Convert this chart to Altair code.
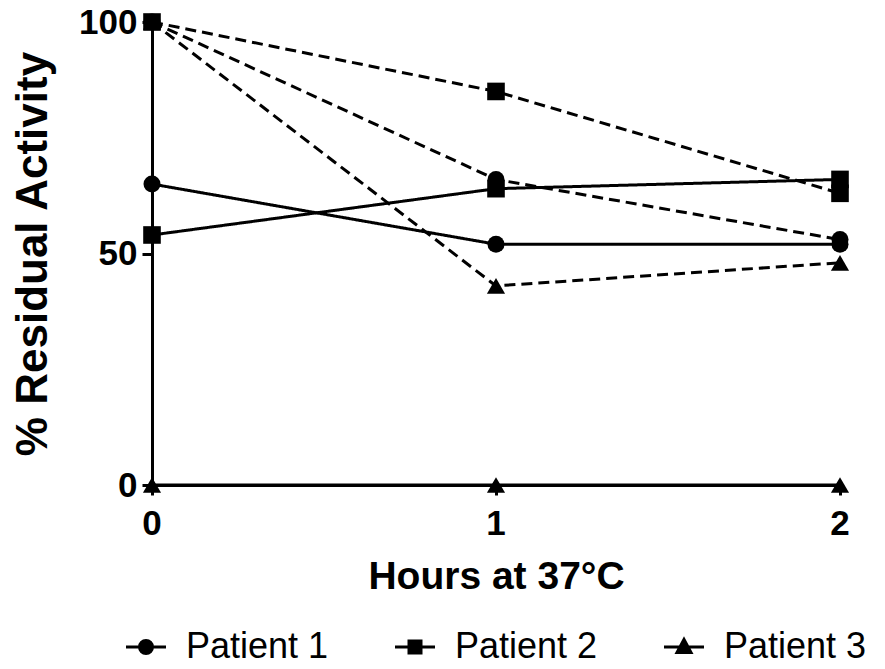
import altair as alt
import pandas as pd

hours = [0, 1, 2]
patients = ["Patient 1", "Patient 2", "Patient 3"]
# solid lines
solid_p1 = [65, 52, 52]
solid_p2 = [54, 64, 66]
solid_p3 = [0, 0, 0]
# dashed lines
dashed_p1 = [100, 66, 53]
dashed_p2 = [100, 85, 63]
dashed_p3 = [100, 43, 48]

rows = []
for cond, series in [("solid", [solid_p1, solid_p2, solid_p3]),
                     ("dashed", [dashed_p1, dashed_p2, dashed_p3])]:
    for pat, vals in zip(patients, series):
        for h, v in zip(hours, vals):
            rows.append({"patient": pat, "cond": cond, "series": pat + " " + cond,
                         "hours": h, "activity": v})
df = pd.DataFrame(rows)
ticks_df = pd.DataFrame({"hours": hours})

FONT = "Liberation Sans"

x_scale = alt.Scale(domain=[0, 2], nice=False, zero=False)
x = alt.X("hours:Q", scale=x_scale,
          axis=alt.Axis(values=hours, labels=False, title="Hours at 37°C",
                        titlePadding=61, titleFontSize=39))
y = alt.Y("activity:Q",
          scale=alt.Scale(domain=[0, 100], nice=False),
          axis=alt.Axis(values=[0, 50, 100], tickCount=3, format="d", title="% Residual Activity",
                        labelPadding=5, titlePadding=23, titleFontSize=44,
                        labelOverlap=False, labelFlush=False, labelBound=False))

lines = alt.Chart(df).mark_line(color="black", strokeWidth=3).encode(
    x=x, y=y, detail="series:N",
    strokeDash=alt.StrokeDash("cond:N",
                              scale=alt.Scale(domain=["solid", "dashed"], range=[[1, 0], [11, 6]]),
                              legend=None),
)

points = alt.Chart(df).mark_point(filled=True, color="black", opacity=1).encode(
    x=x, y=y,
    shape=alt.Shape("patient:N",
                    scale=alt.Scale(domain=patients, range=["circle", "square", "triangle-up"]),
                    legend=None),
    size=alt.Size("patient:N",
                  scale=alt.Scale(domain=patients, range=[290, 330, 270]),
                  legend=None),
)

# x tick labels drawn through the x scale
tick_labels = alt.Chart(ticks_df).mark_text(
    baseline="top", align="center", dy=22, font=FONT, fontWeight="bold",
    fontSize=35, color="black"
).encode(
    x=alt.X("hours:Q", scale=x_scale),
    y=alt.datum(0),
    text=alt.Text("hours:Q", format="d"),
)

path_circle = "M-2,0H2M-0.65,0A0.65,0.65,0,1,1,0.65,0A0.65,0.65,0,1,1,-0.65,0Z"
path_square = "M-2,0H2M-0.6,-0.6H0.6V0.6H-0.6Z"
path_tri = "M-2,0H2M0,-0.75L0.7,0.55L-0.7,0.55Z"

legend_layer = alt.Chart(df).transform_filter("false").mark_point(
    filled=False, color="black", fill="black", stroke="black", strokeWidth=3, opacity=1, size=400
).encode(
    x=x, y=y,
    shape=alt.Shape("patient:N",
                    scale=alt.Scale(domain=patients, range=[path_circle, path_square, path_tri]),
                    legend=alt.Legend(title=None, orient="none", direction="horizontal",
                                      legendX=-24, legendY=607,
                                      labelFont=FONT, labelFontSize=36, labelColor="black",
                                      labelOffset=22, columnPadding=60,
                                      symbolSize=400, symbolStrokeWidth=3,
                                      symbolOpacity=1)),
)

chart = alt.layer(lines, points, tick_labels, legend_layer).resolve_scale(
    shape="independent", size="independent"
).properties(
    width=688, height=463,
    autosize=alt.AutoSizeParams(type="none"),
    padding={"left": 144, "top": 14, "right": 30, "bottom": 175},
).configure_view(stroke=None).configure_axis(
    grid=False,
    domainColor="black", domainWidth=3,
    tickColor="black", tickWidth=3, tickSize=10,
    labelFont=FONT, labelFontWeight="bold", labelFontSize=35, labelColor="black",
    titleFont=FONT, titleFontWeight="bold", titleColor="black",
)

chart.save("out.html", embed_options={"renderer": "svg", "actions": False})
